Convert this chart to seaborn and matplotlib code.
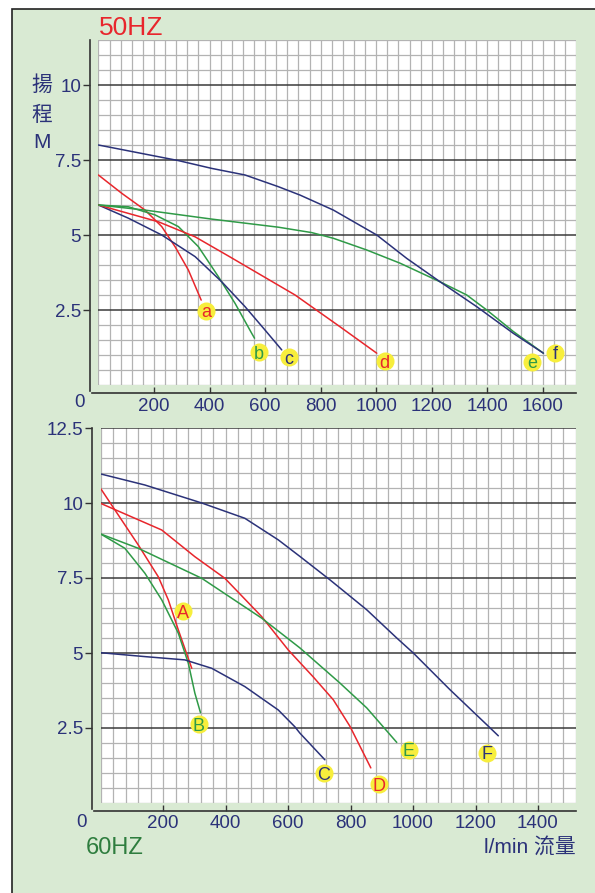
import numpy as np
import pandas as pd
import matplotlib.pyplot as plt
import seaborn as sns
from matplotlib.patches import Rectangle

sns.set_theme(style="white")
plt.rcParams['font.family'] = ['Liberation Sans', 'Noto Sans CJK TC', 'DejaVu Sans']

NAVY = '#2b3279'
RED = '#e8262c'
GREEN = '#2f9a47'
BG = '#d9ead3'
YELLOW = '#f7ee3c'

# ---- 50HZ curves (flow l/min, head m) ----
a_q = [0, 84, 168, 228, 276, 324, 370]
a_h = [7.0, 6.39, 5.83, 5.28, 4.61, 3.83, 2.83]
b_q = [0, 108, 204, 288, 360, 432, 492, 552, 562]
b_h = [6.0, 5.94, 5.67, 5.28, 4.61, 3.61, 2.72, 1.72, 1.56]
c_q = [0, 108, 228, 348, 444, 528, 600, 660]
c_h = [6.0, 5.56, 5.0, 4.28, 3.44, 2.61, 1.83, 1.17]
d_q = [0, 216, 348, 468, 588, 708, 870, 1002]
d_h = [6.0, 5.44, 4.94, 4.3, 3.65, 3.0, 1.94, 1.06]
e_q = [0, 168, 408, 648, 768, 846, 966, 1086, 1230, 1326, 1398, 1494, 1602]
e_h = [6.0, 5.83, 5.53, 5.26, 5.08, 4.89, 4.5, 4.06, 3.44, 3.0, 2.5, 1.78, 1.06]
f_q = [0, 144, 288, 408, 528, 648, 726, 846, 1002, 1110, 1230, 1362, 1494, 1602]
f_h = [8.0, 7.74, 7.48, 7.22, 7.0, 6.61, 6.33, 5.83, 5.0, 4.22, 3.44, 2.61, 1.72, 1.06]

top_names = ['a', 'b', 'c', 'd', 'e', 'f']
top_lab_x = [387, 578, 686, 1031, 1560, 1643]
top_lab_y = [2.47, 1.1, 0.93, 0.8, 0.77, 1.07]

# ---- 60HZ curves ----
A_q = [0, 46, 121, 185, 217, 249, 292]
A_h = [10.49, 9.77, 8.6, 7.54, 6.77, 5.77, 4.49]
B_q = [0, 78, 142, 196, 249, 281, 302, 320]
B_h = [8.97, 8.49, 7.66, 6.77, 5.66, 4.66, 3.66, 3.01]
C_q = [0, 142, 270, 356, 462, 569, 622, 638, 718]
C_h = [5.01, 4.88, 4.77, 4.49, 3.88, 3.1, 2.54, 2.33, 1.44]
D_q = [0, 196, 302, 398, 516, 601, 681, 745, 798, 841, 865]
D_h = [9.99, 9.1, 8.21, 7.49, 6.21, 5.1, 4.2, 3.44, 2.56, 1.67, 1.17]
E_q = [0, 121, 324, 516, 638, 766, 852, 948]
E_h = [8.97, 8.49, 7.49, 6.16, 5.17, 4.0, 3.17, 2.02]
F_q = [0, 142, 324, 462, 569, 638, 734, 852, 948, 1001, 1118, 1236, 1273]
F_h = [10.97, 10.6, 10.0, 9.49, 8.77, 8.22, 7.44, 6.44, 5.5, 5.0, 3.78, 2.61, 2.24]

bot_names = ['A', 'B', 'C', 'D', 'E', 'F']
bot_lab_x = [264, 315, 715, 891, 987, 1237]
bot_lab_y = [6.4, 2.63, 1.0, 0.63, 1.77, 1.67]

curve_colors = [RED, GREEN, NAVY, RED, GREEN, NAVY]


def long_frame(names, qs, hs):
    parts = [pd.DataFrame({'q': q, 'h': h, 'curve': n}) for n, q, h in zip(names, qs, hs)]
    return pd.concat(parts, ignore_index=True)


def draw_panel(ax, df, names, lab_x, lab_y, xmax, ymax, xticks, yticks, dx_off, dy_off):
    ax.set_facecolor('white')
    sns.lineplot(data=df, x='q', y='h', hue='curve', hue_order=names,
                 palette=dict(zip(names, curve_colors)), sort=False,
                 estimator=None, legend=False, lw=1.1, ax=ax, zorder=3)
    ax.set_xlim(0, xmax)
    ax.set_ylim(0, ymax)
    ax.set_xticks(xticks)
    ax.set_yticks(yticks)
    ax.set_yticklabels([f'{v:g}' for v in yticks])
    ax.set_xticks(np.arange(0, xmax + 1, 40), minor=True)
    ax.set_yticks(np.arange(0, ymax + 0.01, 0.5), minor=True)
    ax.set_axisbelow(True)
    ax.grid(which='minor', color='#b3b3b3', lw=0.9)
    ax.grid(which='major', axis='x', color='#b3b3b3', lw=0.9)
    ax.grid(which='major', axis='y', color='#3a3a3a', lw=1.1)
    ax.set_xlabel('')
    ax.set_ylabel('')
    for s in ['top', 'right']:
        ax.spines[s].set_visible(False)
    for s in ['left', 'bottom']:
        ax.spines[s].set_visible(True)
        ax.spines[s].set_color('#333333')
        ax.spines[s].set_linewidth(1.2)
        ax.spines[s].set_position(('outward', 6))
    ax.spines['bottom'].set_bounds(-dx_off, xmax)
    ax.spines['left'].set_bounds(-dy_off, ymax)
    ax.tick_params(axis='y', which='major', direction='out', length=5, width=1,
                   color='#333333', labelcolor=NAVY, labelsize=13.5, pad=1.5, left=True)
    ax.tick_params(axis='x', which='major', direction='in', length=4, width=1,
                   color='#333333', labelcolor=NAVY, labelsize=13.5, pad=3, bottom=True)
    ax.tick_params(which='minor', length=0)
    ax.text(-0.04, -0.052, '0', transform=ax.transAxes, color=NAVY,
            fontsize=13.5, ha='center', va='center')
    # yellow tags with curve letters
    ax.scatter(lab_x, lab_y, s=13 ** 2, color=YELLOW, zorder=5, clip_on=False, linewidths=0)
    for n, x, y, c in zip(names, lab_x, lab_y, curve_colors):
        ax.text(x, y, n, color=c, fontsize=13, ha='center', va='center_baseline',
                zorder=6, clip_on=False)


fig = plt.figure(figsize=(5.95, 8.93), dpi=100, facecolor='white')
fig.patches.append(Rectangle((12 / 595, -0.01), 1.0, 1.0 - 9 / 893 + 0.01,
                             transform=fig.transFigure, facecolor=BG,
                             edgecolor='#222222', lw=1.2, zorder=-1))

ax1 = fig.add_axes([98.4 / 595, 1 - 385 / 893, (576.2 - 98.4) / 595, 345 / 893])
ax2 = fig.add_axes([100.5 / 595, 1 - 803 / 893, (575.5 - 100.5) / 595, 375 / 893])

df50 = long_frame(top_names, [a_q, b_q, c_q, d_q, e_q, f_q], [a_h, b_h, c_h, d_h, e_h, f_h])
df60 = long_frame(bot_names, [A_q, B_q, C_q, D_q, E_q, F_q], [A_h, B_h, C_h, D_h, E_h, F_h])

draw_panel(ax1, df50, top_names, top_lab_x, top_lab_y, 1720, 11.5,
           [200, 400, 600, 800, 1000, 1200, 1400, 1600], [2.5, 5, 7.5, 10], 22, 0.2)
draw_panel(ax2, df60, bot_names, bot_lab_x, bot_lab_y, 1520, 12.5,
           [200, 400, 600, 800, 1000, 1200, 1400], [2.5, 5, 7.5, 10, 12.5], 20, 0.2)

fig.text(99 / 595, 1 - 28 / 893, '50HZ', color=RED, fontsize=19, ha='left', va='center')
fig.text(86 / 595, 1 - 848 / 893, '60HZ', color='#2e7d3e', fontsize=17, ha='left', va='center')
fig.text(576 / 595, 1 - 848 / 893, 'l/min 流量', color=NAVY, fontsize=15, ha='right', va='center')
for label, yy in zip(['揚', '程', 'M'], [85, 115, 142]):
    fig.text(42 / 595, 1 - yy / 893, label, color=NAVY, fontsize=15, ha='center', va='center')

fig.savefig('out.png', dpi=100, facecolor=fig.get_facecolor())
